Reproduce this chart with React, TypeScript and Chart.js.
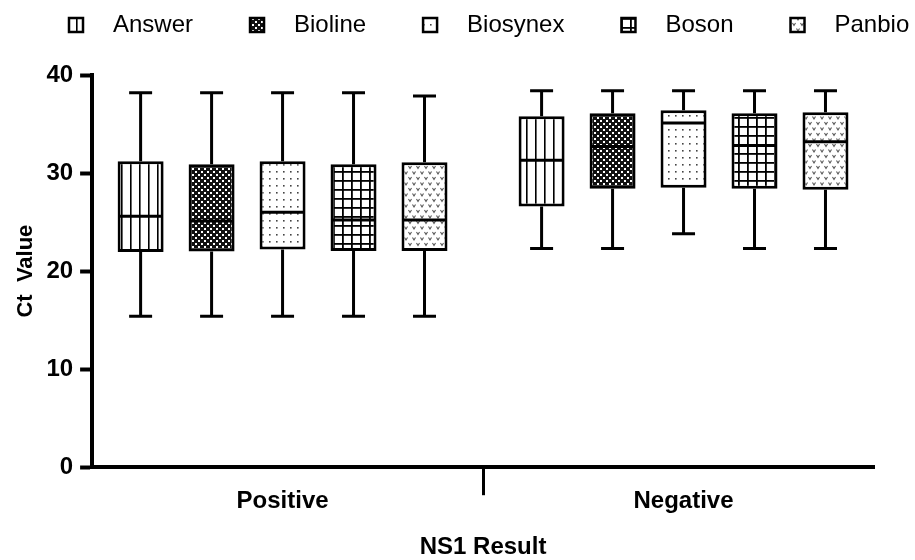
import { useEffect, useRef } from 'react';
import { Chart, registerables } from 'chart.js';

Chart.register(...registerables);

// ---------- data ----------
const categories = ['Positive', 'Negative'];
const seriesNames = ['Answer', 'Bioline', 'Biosynex', 'Boson', 'Panbio'];
// one row per category: [min, q1, median, q3, max]
const answerStats = [
  [15.4, 21.95, 25.6, 31.2, 38.2],
  [22.3, 26.6, 31.3, 35.8, 38.4],
];
const biolineStats = [
  [15.4, 22.0, 25.1, 30.9, 38.2],
  [22.3, 28.4, 32.7, 36.1, 38.4],
];
const biosynexStats = [
  [15.4, 22.2, 26.0, 31.2, 38.2],
  [23.8, 28.5, 35.1, 36.4, 38.4],
];
const bosonStats = [
  [15.4, 22.05, 25.2, 30.9, 38.2],
  [22.3, 28.4, 32.8, 36.1, 38.4],
];
const panbioStats = [
  [15.4, 22.05, 25.2, 31.1, 37.85],
  [22.3, 28.3, 33.2, 36.2, 38.4],
];
const seriesStats = [answerStats, biolineStats, biosynexStats, bosonStats, panbioStats];
const patternKinds = ['vlines', 'checker', 'dots', 'grid', 'hearts'];
const xTickValues = [0, 0.5, 1];
const yTickStep = 10;

const FONT = '"Liberation Sans", Arial, Helvetica, sans-serif';

function makePattern(kind: string): CanvasPattern | string {
  const c = document.createElement('canvas');
  const g = c.getContext('2d');
  if (!g) return '#fff';
  if (kind === 'vlines') {
    c.width = 9; c.height = 4;
    g.fillStyle = '#fff'; g.fillRect(0, 0, 9, 4);
    g.fillStyle = '#000'; g.fillRect(4, 0, 1.6, 4);
  } else if (kind === 'checker') {
    c.width = 6; c.height = 6;
    g.fillStyle = '#111'; g.fillRect(0, 0, 6, 6);
    g.fillStyle = '#fff';
    g.fillRect(0, 0, 2, 2);
    g.fillRect(3, 3, 2, 2);
  } else if (kind === 'dots') {
    c.width = 7; c.height = 7;
    g.fillStyle = '#fff'; g.fillRect(0, 0, 7, 7);
    g.fillStyle = '#444'; g.fillRect(3, 3, 1.6, 1.6);
  } else if (kind === 'grid') {
    c.width = 9; c.height = 9;
    g.fillStyle = '#fff'; g.fillRect(0, 0, 9, 9);
    g.fillStyle = '#000';
    g.fillRect(0, 0, 9, 1.8);
    g.fillRect(0, 0, 1.8, 9);
  } else {
    c.width = 8; c.height = 11;
    g.fillStyle = '#fff'; g.fillRect(0, 0, 8, 11);
    g.strokeStyle = '#555'; g.lineWidth = 1.1;
    const v = (x: number, y: number) => {
      g.beginPath();
      g.moveTo(x, y); g.lineTo(x + 1.5, y + 2.5); g.lineTo(x + 3, y);
      g.stroke();
    };
    v(0.5, 1);
    v(4.5, 6.5);
  }
  return g.createPattern(c, 'repeat') || '#fff';
}

const boxWhiskerPlugin = {
  id: 'boxWhiskers',
  afterDatasetsDraw(chart: any) {
    const { ctx } = chart;
    const yScale = chart.scales.y;
    ctx.save();
    ctx.strokeStyle = '#000';
    ctx.lineWidth = 3;
    chart.data.datasets.forEach((ds: any, d: number) => {
      const meta = chart.getDatasetMeta(d);
      meta.data.forEach((el: any, i: number) => {
        const [mn, q1, md, q3, mx] = ds.boxStats[i];
        const { x, width } = el.getProps(['x', 'width'], true);
        const half = width / 2;
        const cap = width / 4;
        const py = (v: number) => yScale.getPixelForValue(v);
        ctx.beginPath();
        ctx.moveTo(x, py(q3)); ctx.lineTo(x, py(mx));
        ctx.moveTo(x - cap, py(mx)); ctx.lineTo(x + cap, py(mx));
        ctx.moveTo(x, py(q1)); ctx.lineTo(x, py(mn));
        ctx.moveTo(x - cap, py(mn)); ctx.lineTo(x + cap, py(mn));
        ctx.moveTo(x - half + 1, py(md)); ctx.lineTo(x + half - 1, py(md));
        ctx.stroke();
      });
    });
    ctx.restore();
  },
};

const patternLegendPlugin = {
  id: 'patternLegend',
  afterDraw(chart: any, _args: any, opts: any) {
    const { ctx } = chart;
    ctx.save();
    ctx.font = `${opts.fontSize}px ${FONT}`;
    ctx.textBaseline = 'middle';
    ctx.textAlign = 'left';
    let x = opts.left;
    const s = opts.boxSize;
    chart.data.datasets.forEach((ds: any) => {
      ctx.fillStyle = ds.backgroundColor;
      ctx.fillRect(x, opts.y - s / 2, s, s);
      ctx.lineWidth = 2.5;
      ctx.strokeStyle = '#000';
      ctx.strokeRect(x, opts.y - s / 2, s, s);
      ctx.fillStyle = '#000';
      ctx.fillText(ds.label, x + s + opts.textGap, opts.y);
      x += s + opts.textGap + ctx.measureText(ds.label).width + opts.itemGap;
    });
    ctx.restore();
  },
};

export default function App() {
  const ref = useRef<HTMLCanvasElement>(null);

  useEffect(() => {
    document.body.style.margin = '0';
    if (!ref.current) return;
    const patterns = patternKinds.map(makePattern);
    const datasets = seriesNames.map((name, s) => ({
      label: name,
      boxStats: seriesStats[s],
      data: categories.map((_, i) => ({ x: i, y: [seriesStats[s][i][1], seriesStats[s][i][3]] })),
      backgroundColor: patterns[s],
      borderColor: '#000',
      borderWidth: 3,
      borderSkipped: false,
      categoryPercentage: 1.77,
      barPercentage: 0.648,
    }));

    const chart = new Chart(ref.current, {
      type: 'bar',
      data: { datasets: datasets as any },
      plugins: [boxWhiskerPlugin, patternLegendPlugin],
      options: {
        animation: false,
        responsive: false,
        layout: { padding: { top: 75, left: 12, right: 41, bottom: 1 } },
        plugins: {
          legend: { display: false },
          tooltip: { enabled: false },
          patternLegend: { left: 69, y: 25, boxSize: 14, textGap: 30, itemGap: 57, fontSize: 24 },
        } as any,
        scales: {
          x: {
            type: 'linear',
            min: -0.475,
            max: 1.475,
            offset: false,
            afterBuildTicks: (scale: any) => {
              scale.ticks = xTickValues.map((v) => ({ value: v }));
            },
            ticks: {
              autoSkip: false,
              maxRotation: 0,
              padding: -8,
              color: '#000',
              font: { family: FONT, size: 24, weight: 'bold' },
              callback: (v: any) => (Number.isInteger(v) ? categories[v] : ''),
            },
            grid: {
              offset: false,
              drawOnChartArea: false,
              drawTicks: true,
              tickLength: 28,
              tickWidth: 3,
              tickColor: (c: any) => (c.tick && c.tick.value === 0.5 ? '#000' : 'rgba(0,0,0,0)'),
            },
            border: { display: true, width: 4, color: '#000' },
            title: {
              display: true,
              text: 'NS1 Result',
              color: '#000',
              font: { family: FONT, size: 24, weight: 'bold', lineHeight: 1 },
              padding: { top: 27, bottom: 0 },
            },
          } as any,
          y: {
            min: 0,
            max: 40,
            ticks: {
              stepSize: yTickStep,
              padding: 7,
              color: '#000',
              font: { family: FONT, size: 24, weight: 'bold' },
            },
            grid: {
              drawOnChartArea: false,
              drawTicks: true,
              tickLength: 12,
              tickWidth: 4,
              tickColor: '#000',
            },
            border: { display: true, width: 4, color: '#000' },
            title: {
              display: true,
              text: 'Ct  Value',
              color: '#000',
              font: { family: FONT, size: 22, weight: 'bold' },
              padding: { top: 1, bottom: 0 },
            },
          },
        },
      },
    });
    return () => chart.destroy();
  }, []);

  return (
    <div style={{ width: 915, height: 560 }}>
      <canvas ref={ref} width={915} height={560} style={{ display: 'block' }} />
    </div>
  );
}
